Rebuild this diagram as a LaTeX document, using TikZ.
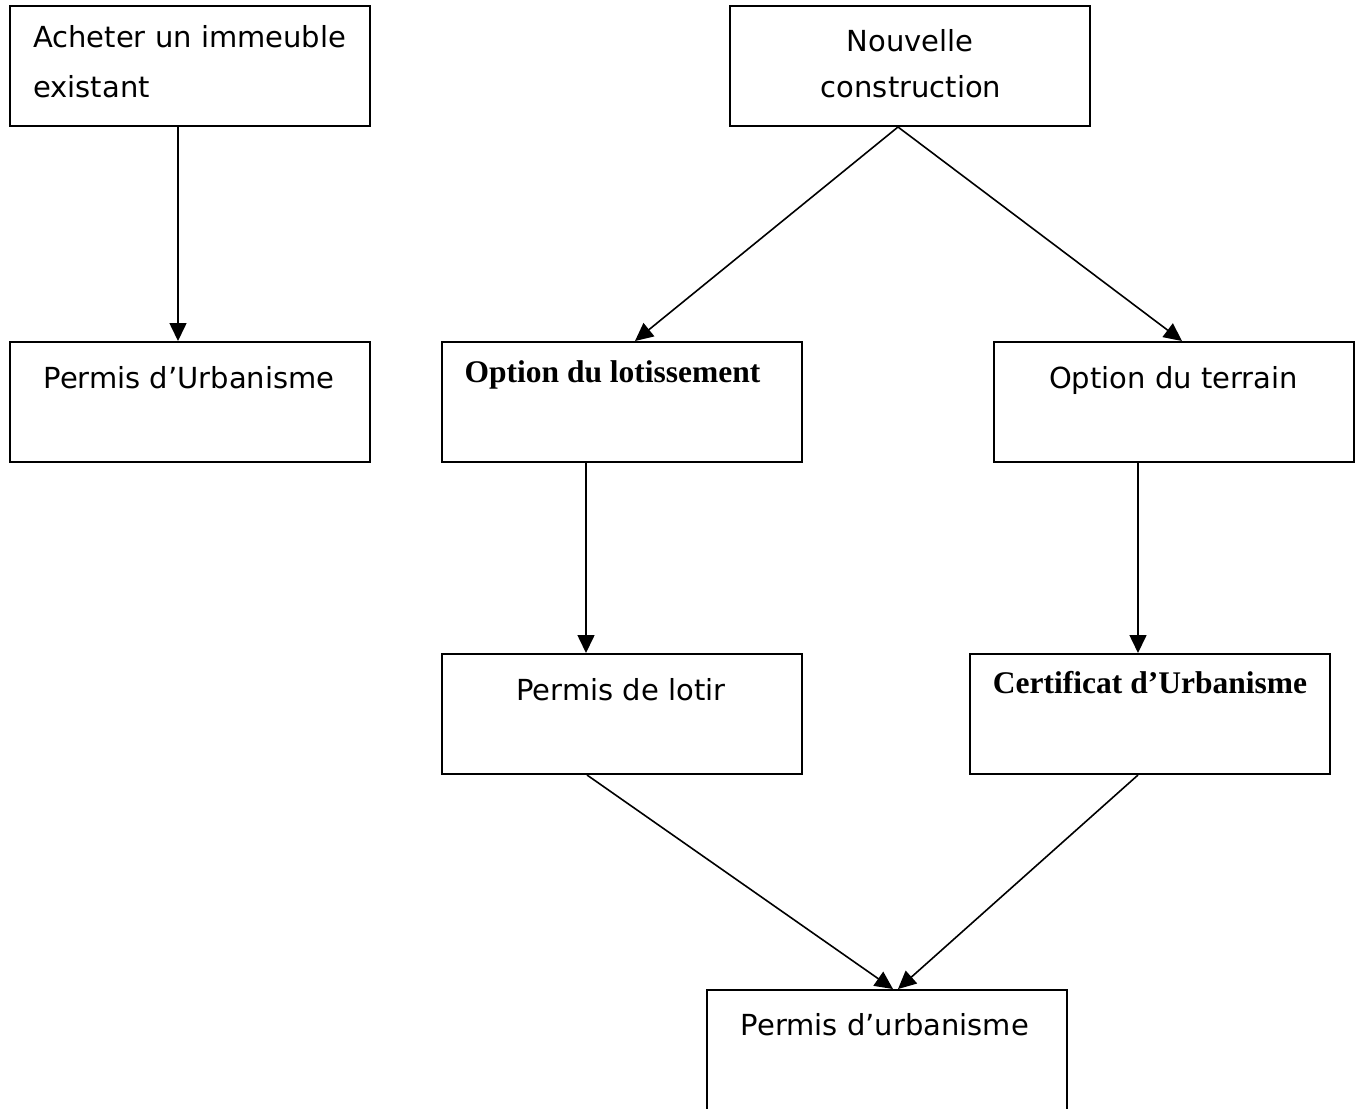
\documentclass[tikz,border=0pt]{standalone}
\usepackage{fontspec}
\newfontfamily\comic{DejaVu Sans}
\newfontfamily\tnr{Liberation Serif}
\usetikzlibrary{arrows.meta,calc}
\tikzset{
  box/.style={draw, line width=2pt, minimum width=360pt, minimum height=120pt, inner sep=0pt},
  boxopen/.style={box, minimum height=126pt},
  ctxt/.style={inner sep=0pt, anchor=base, font=\comic\fontsize{29}{34}\selectfont},
  ltxt/.style={inner sep=0pt, anchor=base west, font=\comic\fontsize{29}{34}\selectfont},
  btxt/.style={inner sep=0pt, anchor=base, font=\tnr\bfseries\fontsize{31.5}{36}\selectfont},
  arr/.style={line width=1.6pt, -{Triangle[length=18pt,width=17pt]}},
}
\begin{document}
\begin{tikzpicture}[x=1pt,y=-1pt]
\clip (0,0) rectangle (1362,1108);
\fill[white] (0,0) rectangle (1362,1108);
% boxes
\node[box] (acq) at (190,66) {};
\node[box] (nc) at (910,66) {};
\node[box] (pu) at (190,402) {};
\node[box] (ol) at (622,402) {};
\node[box] (ot) at (1174,402) {};
\node[box] (pl) at (622,714) {};
\node[box] (cu) at (1150,714) {};
\node[boxopen] (pb) at (886.5,1053) {};
% texts
\node[ltxt] (acqA) at (33,48) {Acheter un immeuble};
\node[ltxt] (acqB) at (33,97) {existant};
\node[ctxt] (ncA) at (910,52) {Nouvelle};
\node[ctxt] (ncB) at (911,97) {construction};
\node[ctxt] (puT) at (189,388) {Permis d’Urbanisme};
\node[btxt] (olT) at (612.5,382) {Option du lotissement};
\node[ctxt] (otT) at (1173.5,388) {Option du terrain};
\node[ctxt] (plT) at (621,700) {Permis de lotir};
\node[btxt] (cuT) at (1150,693) {Certificat d’Urbanisme};
\node[ctxt] (pbT) at (885,1035) {Permis d’urbanisme};
% connectors
\draw[arr] ([xshift=-12pt]acq.south) -- ([xshift=-12pt]pu.north);
\draw[arr] ([xshift=-12pt]nc.south) -- ([xshift=13pt]ol.north);
\draw[arr] ([xshift=-12pt]nc.south) -- ([xshift=8pt]ot.north);
\draw[arr] ([xshift=-36pt]ol.south) -- ([xshift=-36pt]pl.north);
\draw[arr] ([xshift=-36pt]ot.south) -- ([xshift=-12pt]cu.north);
\draw[arr] ([xshift=-35pt]pl.south) -- ([xshift=6.5pt]pb.north);
\draw[arr] ([xshift=-12pt]cu.south) -- ([xshift=11.5pt]pb.north);
\end{tikzpicture}
\end{document}
